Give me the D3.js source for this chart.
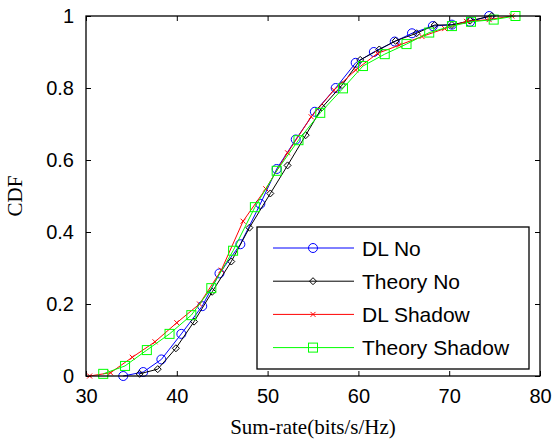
<!DOCTYPE html>
<html>
<head>
<meta charset="utf-8">
<script src="https://cdn.jsdelivr.net/npm/d3@7"></script>
<style>
  body { margin: 0; background: #fff; }
  svg { display: block; }
</style>
</head>
<body>
<div id="chart"></div>
<script>
// values
const dlNoX = [34.1, 36.3, 38.3, 40.5, 42.8, 44.7, 47.0, 49.2, 51.0, 53.1, 55.2, 57.5, 59.7, 61.7, 64.0, 65.9, 68.2, 70.3, 72.3, 74.4];
const dlNoY = [0, 0.011, 0.046, 0.117, 0.194, 0.285, 0.366, 0.478, 0.575, 0.657, 0.734, 0.80, 0.87, 0.90, 0.929, 0.952, 0.972, 0.976, 0.984, 1.0];

const theoryNoX = [35.9, 37.9, 39.9, 41.9, 43.9, 46.0, 48.0, 50.3, 52.2, 54.2, 56.0, 58.2, 60.2, 62.3, 64.1, 66.4, 68.4, 70.3, 72.3, 74.7];
const theoryNoY = [0.006, 0.019, 0.077, 0.151, 0.234, 0.318, 0.412, 0.507, 0.585, 0.669, 0.746, 0.808, 0.878, 0.907, 0.931, 0.952, 0.975, 0.975, 0.987, 1.0];

const dlShadowX = [30.4, 32.7, 35.1, 37.6, 40.0, 42.5, 44.9, 47.3, 49.8, 52.2, 54.8, 57.3, 59.7, 62.1, 64.5, 67.0, 69.5, 71.9, 74.4, 76.9];
const dlShadowY = [0, 0.009, 0.052, 0.095, 0.148, 0.2, 0.294, 0.43, 0.52, 0.62, 0.72, 0.794, 0.85, 0.896, 0.919, 0.943, 0.965, 0.985, 0.99, 1.0];

const theoryShadowX = [31.9, 34.3, 36.7, 39.2, 41.6, 43.8, 46.2, 48.6, 51.0, 53.4, 55.8, 58.3, 60.5, 62.9, 65.3, 67.8, 70.3, 72.4, 74.9, 77.3];
const theoryShadowY = [0.006, 0.028, 0.072, 0.117, 0.169, 0.244, 0.348, 0.469, 0.57, 0.655, 0.731, 0.799, 0.861, 0.894, 0.922, 0.954, 0.972, 0.984, 0.99, 1.0];

const seriesNames = ["DL No", "Theory No", "DL Shadow", "Theory Shadow"];
const xTicks = [30, 40, 50, 60, 70, 80];
const yTicks = [0, 0.2, 0.4, 0.6, 0.8, 1];

const series = [
  { name: seriesNames[0], xs: dlNoX, ys: dlNoY, color: "#0000ff", marker: "circle" },
  { name: seriesNames[1], xs: theoryNoX, ys: theoryNoY, color: "#000000", marker: "diamond" },
  { name: seriesNames[2], xs: dlShadowX, ys: dlShadowY, color: "#ff0000", marker: "cross" },
  { name: seriesNames[3], xs: theoryShadowX, ys: theoryShadowY, color: "#00ff00", marker: "square" },
];

const width = 553, height = 441;
const margin = { left: 86, right: 13, top: 16, bottom: 65 };

const x = d3.scaleLinear().domain([30, 80]).range([margin.left, width - margin.right]);
const y = d3.scaleLinear().domain([0, 1]).range([height - margin.bottom, margin.top]);

const svg = d3.select("#chart").append("svg")
  .attr("width", width)
  .attr("height", height)
  .attr("font-family", "Liberation Sans, Arial, sans-serif");

const fmt = (d) => (d === 0 || d === 1 ? String(d) : d.toFixed(1));

// axes with inward ticks, mirrored on top and right
svg.append("g")
  .attr("transform", `translate(0,${y(0)})`)
  .call(d3.axisBottom(x).tickValues(xTicks).tickSize(-5).tickPadding(13).tickFormat(d3.format("d")))
  .call((g) => g.select(".domain").remove())
  .call((g) => g.selectAll("text").attr("font-size", 20).attr("fill", "#000").attr("font-family", "Liberation Sans, Arial, sans-serif"));

svg.append("g")
  .attr("transform", `translate(0,${y(1)})`)
  .call(d3.axisTop(x).tickValues(xTicks).tickSize(-5).tickFormat(""))
  .call((g) => g.select(".domain").remove());

svg.append("g")
  .attr("transform", `translate(${x(30)},0)`)
  .call(d3.axisLeft(y).tickValues(yTicks).tickSize(-5).tickPadding(12).tickFormat(fmt))
  .call((g) => g.select(".domain").remove())
  .call((g) => g.selectAll("text").attr("font-size", 20).attr("fill", "#000").attr("font-family", "Liberation Sans, Arial, sans-serif"));

svg.append("g")
  .attr("transform", `translate(${x(80)},0)`)
  .call(d3.axisRight(y).tickValues(yTicks).tickSize(-5).tickFormat(""))
  .call((g) => g.select(".domain").remove());

svg.selectAll(".tick line").attr("stroke", "#000").attr("stroke-width", 1);

function drawMarker(g, type, color) {
  if (type === "circle") {
    g.append("circle").attr("r", 4.5).attr("fill", "none").attr("stroke", color).attr("stroke-width", 1);
  } else if (type === "diamond") {
    g.append("path").attr("d", "M0,-3.5L3.5,0L0,3.5L-3.5,0Z").attr("fill", "none").attr("stroke", color).attr("stroke-width", 1);
  } else if (type === "cross") {
    g.append("path").attr("d", "M-2.5,-2.5L2.5,2.5M-2.5,2.5L2.5,-2.5").attr("fill", "none").attr("stroke", color).attr("stroke-width", 1);
  } else if (type === "square") {
    g.append("rect").attr("x", -4.5).attr("y", -4.5).attr("width", 9).attr("height", 9).attr("fill", "none").attr("stroke", color).attr("stroke-width", 1);
  }
}

const line = d3.line().x((d) => x(d[0])).y((d) => y(d[1]));

series.forEach((s) => {
  const pts = s.xs.map((v, i) => [v, s.ys[i]]);
  const g = svg.append("g");
  g.append("path")
    .datum(pts)
    .attr("fill", "none")
    .attr("stroke", s.color)
    .attr("stroke-width", 1)
    .attr("d", line);
  g.selectAll("g.pt")
    .data(pts)
    .join("g")
    .attr("class", "pt")
    .attr("transform", (d) => `translate(${x(d[0])},${y(d[1])})`)
    .each(function () { drawMarker(d3.select(this), s.marker, s.color); });
});

// frame
svg.append("rect")
  .attr("x", x(30)).attr("y", y(1))
  .attr("width", x(80) - x(30)).attr("height", y(0) - y(1))
  .attr("fill", "none").attr("stroke", "#000").attr("stroke-width", 1.3);

// legend
const legend = svg.append("g").attr("transform", "translate(257,227)");
legend.append("rect")
  .attr("width", 272).attr("height", 142)
  .attr("fill", "#fff").attr("stroke", "#000").attr("stroke-width", 1.3);

series.forEach((s, i) => {
  const ly = 21 + i * 33.2;
  const row = legend.append("g").attr("transform", `translate(0,${ly})`);
  row.append("line").attr("x1", 16).attr("x2", 97).attr("stroke", s.color).attr("stroke-width", 1);
  const m = row.append("g").attr("transform", "translate(56,0)");
  drawMarker(m, s.marker, s.color);
  row.append("text")
    .attr("x", 105).attr("dy", "0.36em")
    .attr("font-size", 21)
    .attr("fill", "#000")
    .text(s.name);
});

// axis titles
svg.append("text")
  .attr("x", (x(30) + x(80)) / 2)
  .attr("y", 434)
  .attr("text-anchor", "middle")
  .attr("font-family", "Liberation Serif, Times New Roman, serif")
  .attr("font-size", 21)
  .text("Sum-rate(bits/s/Hz)");

svg.append("text")
  .attr("transform", `translate(22,${(y(0) + y(1)) / 2}) rotate(-90)`)
  .attr("text-anchor", "middle")
  .attr("font-family", "Liberation Serif, Times New Roman, serif")
  .attr("font-size", 21)
  .text("CDF");
</script>
</body>
</html>
